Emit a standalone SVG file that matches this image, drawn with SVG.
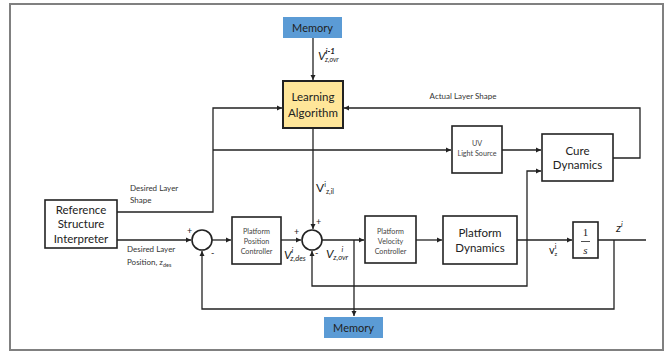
<svg xmlns="http://www.w3.org/2000/svg" width="669" height="354" viewBox="0 0 669 354">
<defs>
<marker id="ah" markerWidth="6" markerHeight="6" refX="5" refY="3" orient="auto" markerUnits="userSpaceOnUse">
<path d="M0,0.5 L5,3 L0,5.5 Z" fill="#222"/>
</marker>
<style>
.box{fill:#fff;stroke:#222;stroke-width:1.6}
.mem{fill:#5B9BD5;stroke:none}
.ln{fill:none;stroke:#222;stroke-width:1.3}
.t{font-family:Lato,"Open Sans",sans-serif;fill:#222;text-anchor:middle}
.big{font-size:11.5px}
.sm{font-size:7.2px;fill:#444}
.lbl{font-family:Lato,"Open Sans",sans-serif;fill:#333;font-size:8px}
.sign{font-family:Lato,"Open Sans",sans-serif;fill:#222;font-size:9px}
.math{font-family:Lato,"Open Sans",sans-serif;fill:#222}
</style>
</defs>
<rect x="10" y="4" width="653" height="346" fill="#fff" stroke="#808080" stroke-width="2"/>

<g id="connectors">
<path class="ln" d="M313,38 V80" marker-end="url(#ah)"/>
<path class="ln" d="M313,128 V229" marker-end="url(#ah)"/>
<path class="ln" d="M117,212 H213 V108 H282" marker-end="url(#ah)"/>
<path class="ln" d="M213,150 H451" marker-end="url(#ah)"/>
<path class="ln" d="M502,150 H541" marker-end="url(#ah)"/>
<path class="ln" d="M613,158 H640 V108 H344" marker-end="url(#ah)"/>
<path class="ln" d="M117,240 H191" marker-end="url(#ah)"/>
<path class="ln" d="M212,240 H231" marker-end="url(#ah)"/>
<path class="ln" d="M281,240 H301" marker-end="url(#ah)"/>
<path class="ln" d="M322,240 H364" marker-end="url(#ah)"/>
<path class="ln" d="M354,240 V316" marker-end="url(#ah)"/>
<path class="ln" d="M416,240 H442" marker-end="url(#ah)"/>
<path class="ln" d="M517,240 H572" marker-end="url(#ah)"/>
<path class="ln" d="M598,240 H646"/>
<path class="ln" d="M614,240 V309 H202 V251" marker-end="url(#ah)"/>
<path class="ln" d="M527,240 V286 H312 V251" marker-end="url(#ah)"/>
<path class="ln" d="M527,240 V171 H541" marker-end="url(#ah)"/>
</g>

<g id="memory-top">
<rect class="mem" x="283" y="17" width="59" height="21"/>
<text class="t" x="312.5" y="31.5" font-size="11" fill="#1F2F4F">Memory</text>
</g>

<g id="learning-algorithm">
<rect x="283" y="81" width="60" height="47" fill="#FFE699" stroke="#222" stroke-width="2"/>
<text class="t big" x="313" y="101">Learning</text>
<text class="t big" x="313" y="117">Algorithm</text>
</g>

<g id="reference-structure-interpreter">
<rect class="box" x="45" y="200" width="72" height="48"/>
<text class="t big" x="81" y="214">Reference</text>
<text class="t big" x="81" y="228">Structure</text>
<text class="t big" x="81" y="243">Interpreter</text>
</g>

<g id="uv-light-source">
<rect class="box" x="452" y="126" width="50" height="47"/>
<text class="t sm" x="477" y="146">UV</text>
<text class="t sm" x="477" y="156">Light Source</text>
</g>

<g id="cure-dynamics">
<rect class="box" x="542" y="134" width="71" height="47"/>
<text class="t big" x="577.5" y="155">Cure</text>
<text class="t big" x="577.5" y="169">Dynamics</text>
</g>

<g id="sum1">
<circle cx="202" cy="240" r="10" fill="#fff" stroke="#222" stroke-width="1.6"/>
<text class="sign" x="187" y="234">+</text>
<text class="sign" x="211" y="256">-</text>
</g>

<g id="platform-position-controller">
<rect class="box" x="232" y="217" width="49" height="47"/>
<text class="t sm" x="256.5" y="233.5">Platform</text>
<text class="t sm" x="256.5" y="243.5">Position</text>
<text class="t sm" x="256.5" y="253.5">Controller</text>
</g>

<g id="sum2">
<circle cx="312" cy="240" r="10" fill="#fff" stroke="#222" stroke-width="1.6"/>
<text class="sign" x="294" y="235">+</text>
<text class="sign" x="316" y="225">+</text>
<text class="sign" x="315" y="256">-</text>
</g>

<g id="platform-velocity-controller">
<rect class="box" x="365" y="216" width="51" height="47"/>
<text class="t sm" x="390.5" y="233.5">Platform</text>
<text class="t sm" x="390.5" y="243.5">Velocity</text>
<text class="t sm" x="390.5" y="253.5">Controller</text>
</g>

<g id="platform-dynamics">
<rect class="box" x="443" y="216" width="74" height="48"/>
<text class="t big" x="480" y="237">Platform</text>
<text class="t big" x="480" y="252">Dynamics</text>
</g>

<g id="integrator">
<rect class="box" x="573" y="222" width="25" height="36"/>
<text x="585.5" y="236" font-family="Liberation Serif,serif" font-size="11" text-anchor="middle" fill="#222">1</text>
<line x1="581" y1="241.5" x2="590" y2="241.5" stroke="#222" stroke-width="0.8"/>
<text x="585.5" y="254" font-family="Liberation Serif,serif" font-style="italic" font-size="11" text-anchor="middle" fill="#222">s</text>
</g>

<g id="memory-bottom">
<rect class="mem" x="324" y="317" width="59" height="21"/>
<text class="t" x="353.5" y="331.5" font-size="11" fill="#1F2F4F">Memory</text>
</g>

<g id="labels">
<text class="lbl" x="463" y="99" text-anchor="middle">Actual Layer Shape</text>
<text class="lbl" x="130" y="191">Desired Layer</text>
<text class="lbl" x="130" y="203">Shape</text>
<text class="lbl" x="127" y="252">Desired Layer</text>
<text class="lbl" x="127" y="265">Position, z<tspan font-size="5.5" dy="1.5">des</tspan></text>

<text class="math" x="318" y="60" font-style="italic" font-size="12">V<tspan font-size="8" font-weight="bold" dy="-6">i-1</tspan><tspan font-size="7" dx="-10" dy="8">z,ovr</tspan></text>
<text class="math" x="316" y="192" font-size="12">V<tspan font-size="7.5" dy="-5">i</tspan><tspan font-size="7" dy="7">z,il</tspan></text>
<text class="math" x="284" y="259" font-style="italic" font-size="12">V<tspan font-size="7.5" dy="-6">i</tspan><tspan font-size="7.5" dx="-3" dy="8">z,des</tspan></text>
<text class="math" x="326" y="258" font-style="italic" font-size="12">V<tspan font-size="7.5" dy="-6" dx="8">i</tspan><tspan font-size="7.5" dx="-10" dy="8">z,ovr</tspan></text>
<text class="math" x="549" y="254" font-size="11">v<tspan font-size="7" dy="-5">i</tspan><tspan font-size="6" dx="-2" dy="7">z</tspan></text>
<text class="math" x="616" y="232" font-style="italic" font-size="12">z<tspan font-size="7.5" dy="-5">i</tspan></text>
</g>
</svg>
